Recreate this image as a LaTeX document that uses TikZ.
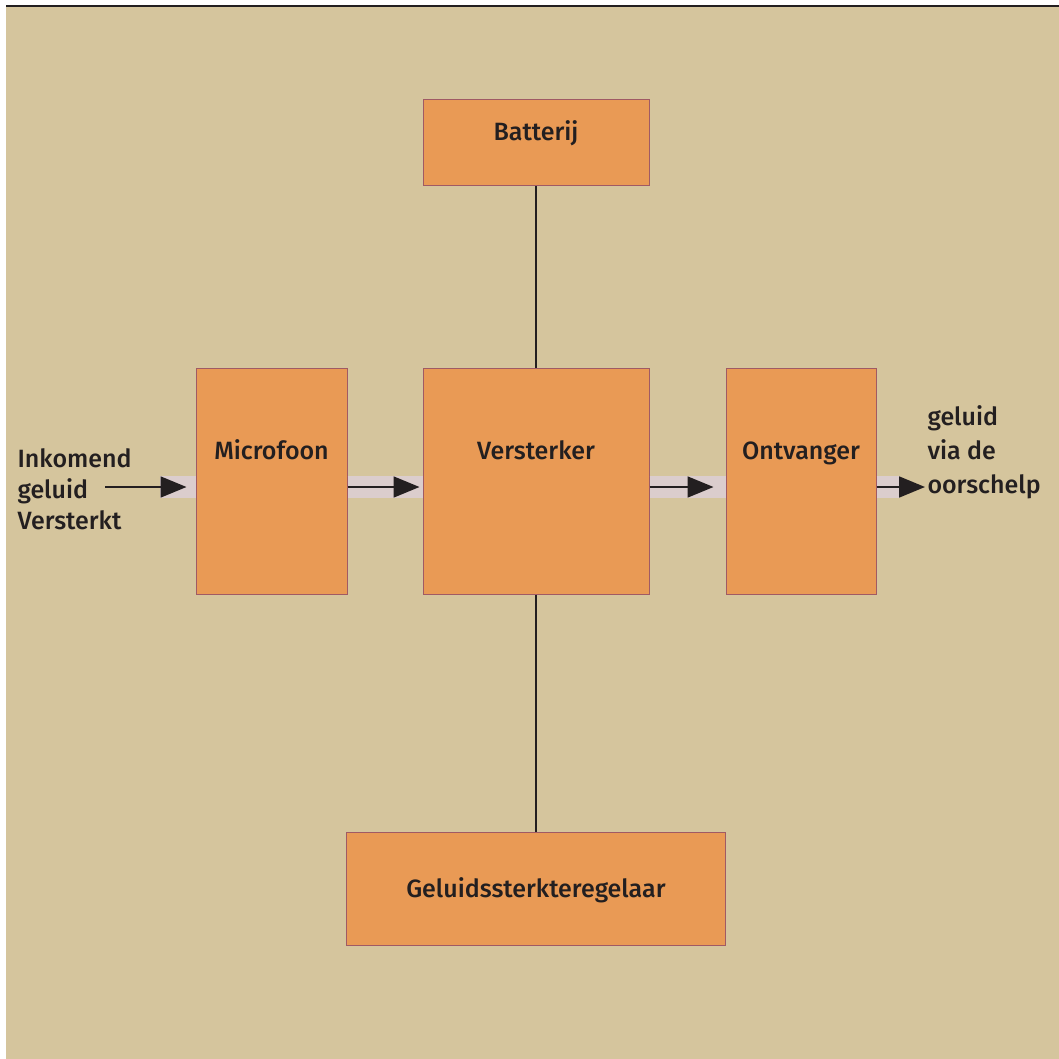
\documentclass[tikz,border=0pt]{standalone}
\usepackage{fontspec}
\setmainfont{Fira Sans}[UprightFont=* Medium]
\usetikzlibrary{arrows.meta}
\definecolor{achter}{RGB}{213,197,157}
\definecolor{oranje}{RGB}{233,154,85}
\definecolor{rand}{RGB}{160,90,100}
\definecolor{band}{RGB}{219,205,205}
\definecolor{inkt}{RGB}{35,31,32}

\tikzset{
  blok/.style={draw=rand,line width=1pt,fill=oranje,inner sep=0pt},
  tekst/.style={font=\fontsize{25}{30}\selectfont,text=inkt,anchor=center,
    text height=18pt,text depth=6pt},
  strook/.style={band,line width=22pt},
  pijl/.style={inkt,line width=1.8pt,-{Triangle[length=26pt,width=21pt]}},
  lijn/.style={inkt,line width=2.2pt}
}

\begin{document}
\begin{tikzpicture}
  [x=1pt,y=-1pt]
  \useasboundingbox (0,0) rectangle (1059,1059);
  \fill[achter] (6,6) rectangle (1059,1059);
  \draw[inkt,line width=2pt] (6,6) -- (1059,6);
  \node[blok,minimum width=226pt,minimum height=86pt,
    label={[tekst,yshift=-35pt]north:Batterij}] (bat) at (536,143) {};
  \node[blok,minimum width=151pt,minimum height=226pt,
    label={[tekst,yshift=-86pt]north:Microfoon}] (mic) at (271.5,481) {};
  \node[blok,minimum width=226pt,minimum height=226pt,
    label={[tekst,yshift=-86pt]north:Versterker}] (vers) at (536,481) {};
  \node[blok,minimum width=150pt,minimum height=226pt,
    label={[tekst,yshift=-86pt]north:Ontvanger}] (ont) at (801,481) {};
  \node[blok,minimum width=379pt,minimum height=113pt,
    label={[tekst,yshift=-3pt]center:Geluidssterkteregelaar}] (regel) at (536,888.5) {};
  \coordinate (in) at (105,487);
  \coordinate (inband) at (160,487);
  \coordinate (uitband) at (900,487);
  \coordinate (uit) at (925,487);
  \node[anchor=west,align=left,text=inkt,font=\fontsize{25}{31}\selectfont] (intekst) at (14,489) {Inkomend\\geluid\\Versterkt};
  \node[anchor=west,align=left,text=inkt,font=\fontsize{25}{34}\selectfont] (uittekst) at (924,452) {geluid\\via de\\oorschelp};
  % geleiding
  \draw[strook] (inband) -- (mic.west |- in);
  \draw[strook] (mic.east |- in) -- (vers.west |- in);
  \draw[strook] (vers.east |- in) -- (ont.west |- in);
  \draw[strook] (ont.east |- in) -- (uitband);
  \draw[pijl,shorten >=9pt] (in) -- (mic.west |- in);
  \draw[pijl,shorten >=3pt] (mic.east |- in) -- (vers.west |- in);
  \draw[pijl,shorten >=12pt] (vers.east |- in) -- (ont.west |- in);
  \draw[pijl] (ont.east |- in) -- (uit);
  \draw[lijn] (bat) -- (vers);
  \draw[lijn] (vers) -- (regel);
\end{tikzpicture}
\end{document}
